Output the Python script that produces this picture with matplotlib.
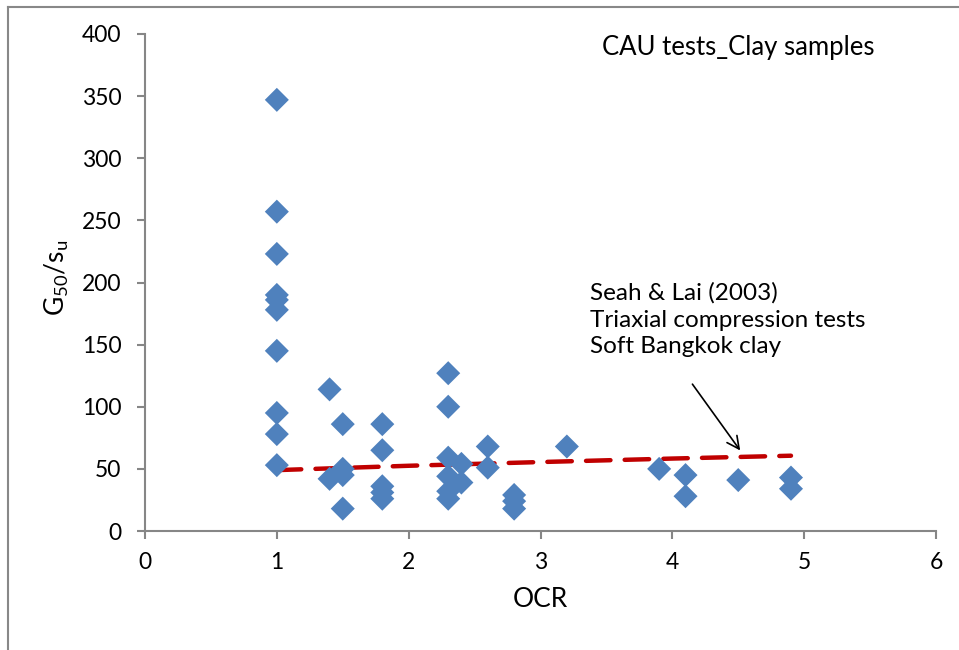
import matplotlib.pyplot as plt
from matplotlib.lines import Line2D

# CAU tests on clay samples
ocr = [1.0, 1.0, 1.0, 1.0, 1.0, 1.0, 1.0, 1.0, 1.0, 1.0,
       1.4, 1.4, 1.5, 1.5, 1.5, 1.5,
       1.8, 1.8, 1.8, 1.8, 1.8,
       2.3, 2.3, 2.3, 2.3, 2.3, 2.3,
       2.4, 2.4, 2.6, 2.6, 2.8, 2.8, 2.8,
       3.2, 3.9, 4.1, 4.1, 4.5, 4.9, 4.9]
g50_su = [347, 257, 223, 190, 186, 178, 145, 95, 78, 53,
          114, 42, 86, 50, 45, 18,
          86, 65, 36, 31, 26,
          127, 100, 59, 44, 32, 26,
          54, 39, 68, 51, 29, 24, 18,
          68, 50, 45, 28, 41, 43, 34]

# Seah & Lai (2003) trend line
ref_ocr = [1.0, 2.0, 3.0, 4.0, 4.9]
ref_g50_su = [49.0, 52.5, 55.5, 58.3, 60.6]

plt.rcParams['font.family'] = ['Lato', 'DejaVu Sans']
plt.rcParams['mathtext.fontset'] = 'custom'
plt.rcParams['mathtext.rm'] = 'Lato'

fig = plt.figure(figsize=(9.59, 6.5), dpi=100)
ax = fig.add_axes([145 / 959, 1 - 531 / 650, 791 / 959, 497 / 650])

# outer chart border (only top and left are visible)
fig.add_artist(Line2D([8 / 959, 8 / 959], [0, 1 - 7 / 650], transform=fig.transFigure,
                      color='#888888', lw=1.5))
fig.add_artist(Line2D([8 / 959, 1], [1 - 7 / 650, 1 - 7 / 650], transform=fig.transFigure,
                      color='#888888', lw=1.5))

ax.plot(ref_ocr, ref_g50_su, color='#C00000', lw=3.2, dashes=(5.5, 3.2),
        dash_capstyle='round', zorder=2)
ax.scatter(ocr, g50_su, marker='D', s=150, color='#4F81BD', edgecolors='none', zorder=3)

ax.set_xlim(0, 6)
ax.set_ylim(0, 400)
ax.set_xticks(range(0, 7))
ax.set_yticks(range(0, 401, 50))

for side in ['top', 'right']:
    ax.spines[side].set_visible(False)
for side in ['left', 'bottom']:
    ax.spines[side].set_color('#868686')
    ax.spines[side].set_linewidth(1.5)
ax.tick_params(direction='out', length=6, width=1.5, color='#868686',
               labelsize=16.5, labelcolor='black')
ax.tick_params(axis='x', pad=9)
ax.tick_params(axis='y', pad=11)

ax.set_xlabel('OCR', fontsize=19, va='top')
ax.xaxis.set_label_coords(0.5, -0.112)
ax.set_ylabel(r'G$_{\mathregular{50}}$/s$_{\mathregular{u}}$', fontsize=19)
ax.yaxis.set_label_coords(-0.094, 0.51)

ax.text(3.467, 389, 'CAU tests_Clay samples', fontsize=18.5, va='center', ha='left')
ax.text(3.376, 200, 'Seah & Lai (2003)\nTriaxial compression tests\nSoft Bangkok clay',
        fontsize=17.5, va='top', ha='left', linespacing=1.33)
ax.annotate('', xy=(4.527, 63), xytext=(4.14, 120),
            arrowprops=dict(arrowstyle='->', color='black', lw=1.2, mutation_scale=22))

fig.savefig('out.png', dpi=100)
